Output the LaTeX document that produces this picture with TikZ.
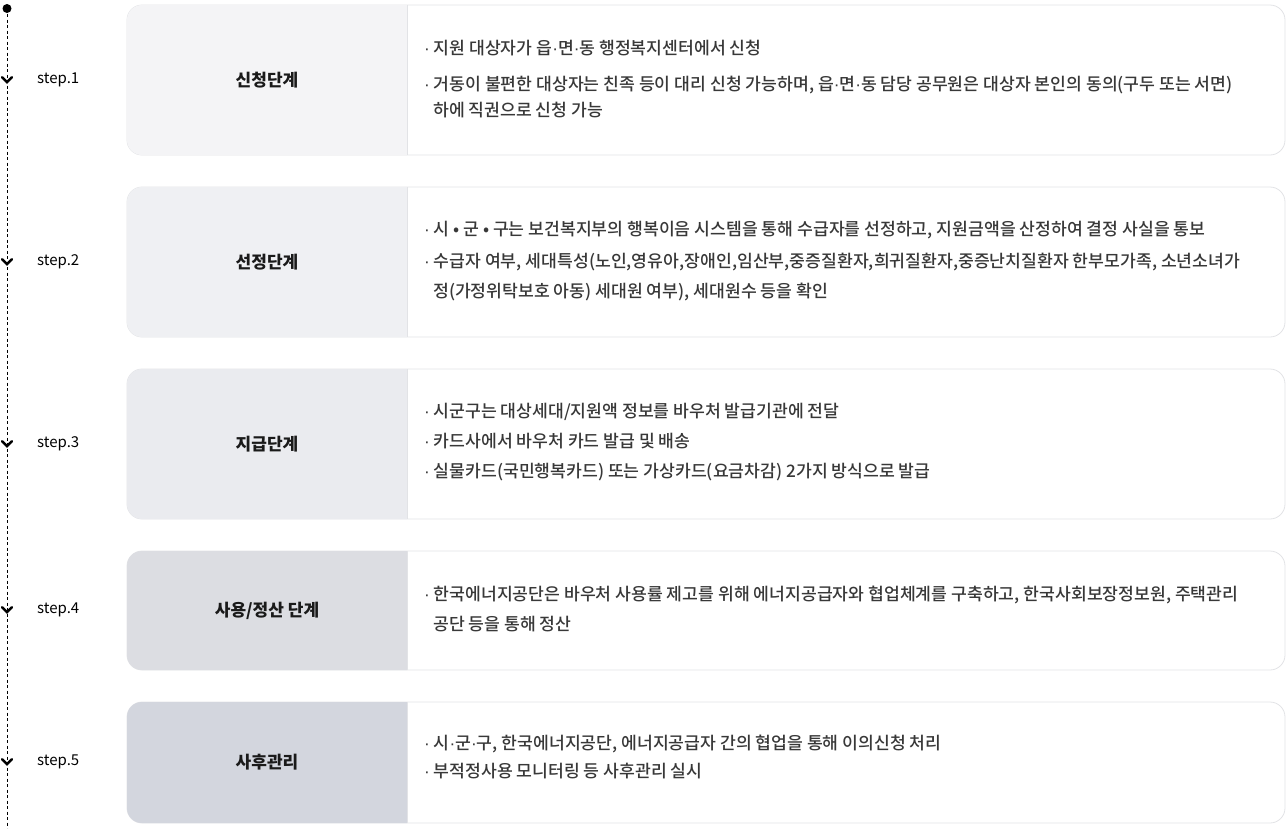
\documentclass[tikz,border=0pt]{standalone}
\usepackage{fontspec}
\setmainfont{Noto Sans CJK KR}
\newfontfamily\bodyfont{Noto Sans CJK KR Medium}
\newfontfamily\dotfont{Liberation Sans}
\newcommand{\md}{{\dotfont ·}}
\definecolor{bodytxt}{HTML}{383838}
\definecolor{titletxt}{HTML}{1A1A1A}
\definecolor{cardline}{HTML}{E2E3E6}
\definecolor{panelA}{HTML}{F4F4F6}
\definecolor{panelB}{HTML}{EFF0F3}
\definecolor{panelC}{HTML}{EAEBEF}
\definecolor{panelD}{HTML}{DCDDE2}
\definecolor{panelE}{HTML}{D3D6DE}
\tikzset{
  card/.style={draw=cardline, line width=0.8pt, fill=white, rounded corners=15pt},
  titlelbl/.style={font=\fontsize{17}{19}\selectfont\bfseries, text=titletxt},
  steplbl/.style={font=\fontsize{15}{17}\selectfont, text=black, anchor=west, inner sep=0pt},
  bodyline/.style={font=\bodyfont\fontsize{17.2}{19}\selectfont, text=bodytxt, anchor=west, inner sep=0pt},
  chev/.style={line width=2.5pt, line cap=round, line join=miter},
  timeline/.style={dash pattern=on 3pt off 2.5pt, line width=0.9pt}
}
\newcommand{\stagecard}[5]{%
  % #1 top, #2 bottom, #3 fill colour, #4 title, #5 name
  \draw[card] (127,#1) rectangle (1285,#2);
  \fill[#3] (407,#1) {[rounded corners=15pt] -- (127,#1) -- (127,#2)} -- (407,#2) -- cycle;
  \draw[cardline, line width=0.8pt] (407,#1) -- (407,#2);
  \node[titlelbl] (#5) at (267,{(#1+#2)/2}) {#4};
}
\newcommand{\stepmark}[3]{%
  % #1 y, #2 label, #3 name
  \draw[chev] (2,{#1-2.8}) -- (7,{#1+2.2}) -- (12,{#1-2.8});
  \node[steplbl] (#3) at (37,#1) {#2};
}
\begin{document}
\begin{tikzpicture}[x=1pt,y=-1pt]
\useasboundingbox (0,0) rectangle (1287,828);
% timeline
\coordinate (tltop) at (7,8.5);
\coordinate (tlbot) at (7,828);
\draw[timeline] (tltop) -- (tlbot);
\fill (tltop) circle (4.5pt);
% cards
\stagecard{5}{155}{panelA}{신청단계}{t1}
\stagecard{187}{337}{panelB}{선정단계}{t2}
\stagecard{369}{519}{panelC}{지급단계}{t3}
\stagecard{551}{670}{panelD}{사용/정산 단계}{t4}
\stagecard{702}{823}{panelE}{사후관리}{t5}
% step markers
\stepmark{80}{step.1}{s1}
\stepmark{262}{step.2}{s2}
\stepmark{444}{step.3}{s3}
\stepmark{610}{step.4}{s4}
\stepmark{762}{step.5}{s5}
% card 1 text
\node[bodyline] (b11) at (424,48) {\md{} 지원 대상자가 읍\md{}면\md{}동 행정복지센터에서 신청};
\node[bodyline] (b12) at (424,85) {\md{} 거동이 불편한 대상자는 친족 등이 대리 신청 가능하며, 읍\md{}면\md{}동 담당 공무원은 대상자 본인의 동의(구두 또는 서면)};
\node[bodyline] (b13) at (433,110) {하에 직권으로 신청 가능};
% card 2 text
\node[bodyline] (b21) at (424,230) {\md{} 시 • 군 • 구는 보건복지부의 행복이음 시스템을 통해 수급자를 선정하고, 지원금액을 산정하여 결정 사실을 통보};
\node[bodyline] (b22) at (424,262) {\md{} 수급자 여부, 세대특성(노인,영유아,장애인,임산부,중증질환자,희귀질환자,중증난치질환자 한부모가족, 소년소녀가};
\node[bodyline] (b23) at (433,292) {정(가정위탁보호 아동) 세대원 여부), 세대원수 등을 확인};
% card 3 text
\node[bodyline] (b31) at (424,412) {\md{} 시군구는 대상세대/지원액 정보를 바우처 발급기관에 전달};
\node[bodyline] (b32) at (424,441) {\md{} 카드사에서 바우처 카드 발급 및 배송};
\node[bodyline] (b33) at (424,472) {\md{} 실물카드(국민행복카드) 또는 가상카드(요금차감) 2가지 방식으로 발급};
% card 4 text
\node[bodyline] (b41) at (424,595) {\md{} 한국에너지공단은 바우처 사용률 제고를 위해 에너지공급자와 협업체계를 구축하고, 한국사회보장정보원, 주택관리};
\node[bodyline] (b42) at (433,624) {공단 등을 통해 정산};
% card 5 text
\node[bodyline] (b51) at (424,744) {\md{} 시\md{}군\md{}구, 한국에너지공단, 에너지공급자 간의 협업을 통해 이의신청 처리};
\node[bodyline] (b52) at (424,771) {\md{} 부적정사용 모니터링 등 사후관리 실시};
\end{tikzpicture}
\end{document}
